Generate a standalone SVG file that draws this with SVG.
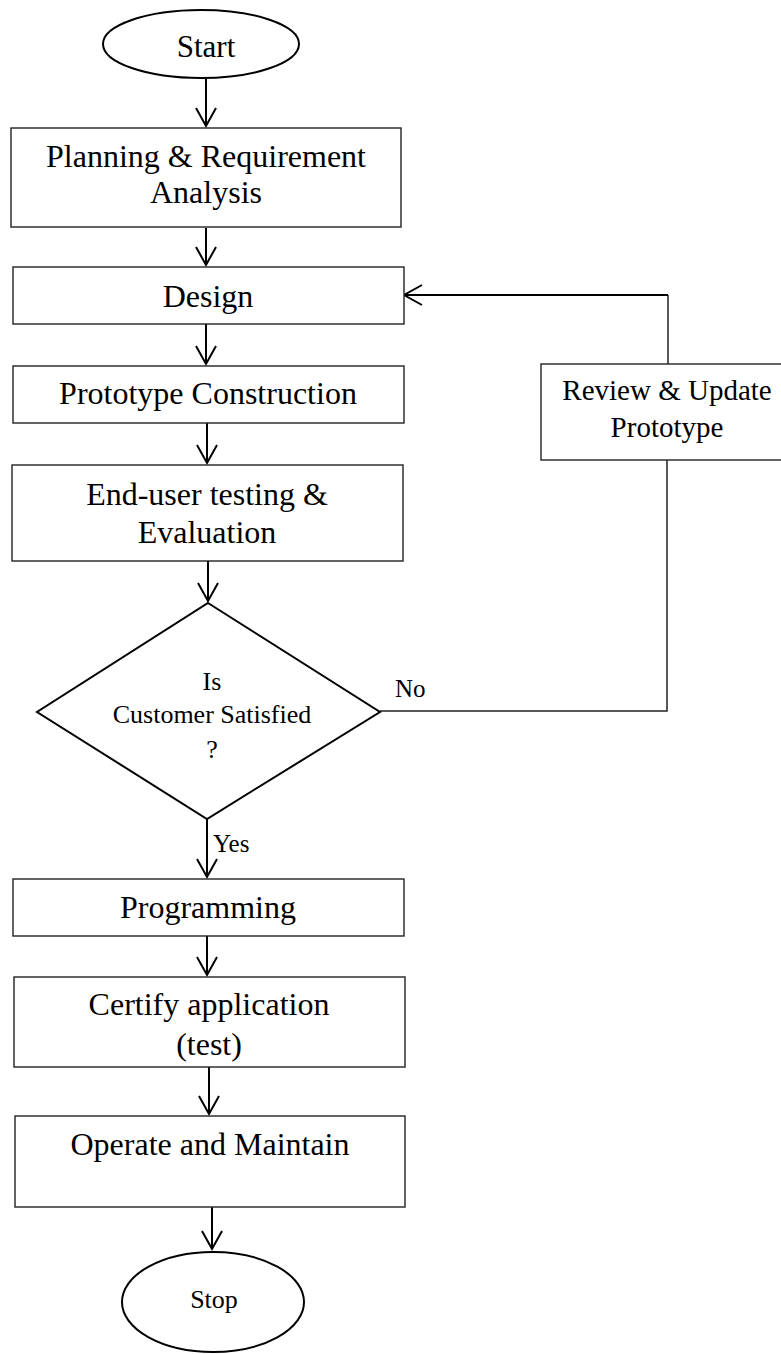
<svg xmlns="http://www.w3.org/2000/svg" width="781" height="1354" viewBox="0 0 781 1354">
  <defs>
    <style>
      .shape { fill: #ffffff; stroke: #222222; stroke-width: 1.4; }
      .term { fill: #ffffff; stroke: #000000; stroke-width: 2; }
      .lbl { font-family: "Liberation Serif", "Times New Roman", serif; font-size: 32px; fill: #000000; text-anchor: middle; }
      .sm { font-size: 26px; }
      .tag { font-family: "Liberation Serif", "Times New Roman", serif; font-size: 25px; fill: #000000; }
      .wire { fill: none; stroke: #000000; stroke-width: 2; }
      .wire-thin { fill: none; stroke: #222222; stroke-width: 1.5; }
    </style>
    <marker id="vhead" markerUnits="userSpaceOnUse" markerWidth="24" markerHeight="24" viewBox="-20 -12 24 24" refX="0" refY="0" orient="auto">
      <path d="M-18,-10 L0,0 L-18,10" fill="none" stroke="#000000" stroke-width="2"/>
    </marker>
  </defs>

  <rect width="781" height="1354" fill="#ffffff"/>

  <!-- connectors -->
  <g id="connectors">
    <line class="wire" x1="206" y1="79" x2="206" y2="126" marker-end="url(#vhead)"/>
    <line class="wire" x1="206" y1="228" x2="206" y2="265" marker-end="url(#vhead)"/>
    <line class="wire" x1="206" y1="324" x2="206" y2="364" marker-end="url(#vhead)"/>
    <line class="wire" x1="207" y1="423" x2="207" y2="463" marker-end="url(#vhead)"/>
    <line class="wire" x1="208" y1="561" x2="208" y2="601" marker-end="url(#vhead)"/>
    <line class="wire" x1="207" y1="819" x2="207" y2="877" marker-end="url(#vhead)"/>
    <line class="wire" x1="207" y1="936" x2="207" y2="975" marker-end="url(#vhead)"/>
    <line class="wire" x1="209" y1="1067" x2="209" y2="1114" marker-end="url(#vhead)"/>
    <line class="wire" x1="212" y1="1207" x2="212" y2="1249" marker-end="url(#vhead)"/>
    <!-- "No" branch back to Design -->
    <polyline class="wire-thin" points="380,711 667,711 667,460"/>
    <line class="wire-thin" x1="668" y1="364" x2="668" y2="295"/>
    <line class="wire" x1="668" y1="295" x2="404" y2="295" marker-end="url(#vhead)"/>
    <text class="tag" x="395" y="697">No</text>
    <text class="tag" x="213" y="852">Yes</text>
  </g>

  <g id="start">
    <ellipse class="term" cx="201" cy="44" rx="98" ry="34"/>
    <text class="lbl" x="206" y="57" style="font-size:31px">Start</text>
  </g>

  <g id="planning">
    <rect class="shape" x="11" y="128" width="390" height="99"/>
    <text class="lbl" x="206" y="167">Planning &amp; Requirement</text>
    <text class="lbl" x="206" y="203">Analysis</text>
  </g>

  <g id="design">
    <rect class="shape" x="13" y="267" width="391" height="57"/>
    <text class="lbl" x="208" y="307">Design</text>
  </g>

  <g id="prototype">
    <rect class="shape" x="13" y="366" width="391" height="57"/>
    <text class="lbl" x="208" y="404">Prototype Construction</text>
  </g>

  <g id="evaluation">
    <rect class="shape" x="12" y="465" width="391" height="96"/>
    <text class="lbl" x="207" y="505">End-user testing &amp;</text>
    <text class="lbl" x="207" y="543">Evaluation</text>
  </g>

  <g id="decision">
    <polygon class="term" points="208,603 380,712 207,819 37,712"/>
    <text class="lbl sm" x="212" y="690">Is</text>
    <text class="lbl sm" x="212" y="723">Customer Satisfied</text>
    <text class="lbl sm" x="212" y="758">?</text>
  </g>

  <g id="review">
    <rect class="shape" x="541" y="364" width="245" height="96"/>
    <text class="lbl" x="667" y="400" style="font-size:29px">Review &amp; Update</text>
    <text class="lbl" x="667" y="437" style="font-size:29px">Prototype</text>
  </g>

  <g id="programming">
    <rect class="shape" x="13" y="879" width="391" height="57"/>
    <text class="lbl" x="208" y="918">Programming</text>
  </g>

  <g id="certify">
    <rect class="shape" x="14" y="977" width="391" height="90"/>
    <text class="lbl" x="209" y="1015">Certify application</text>
    <text class="lbl" x="209" y="1055">(test)</text>
  </g>

  <g id="operate">
    <rect class="shape" x="15" y="1116" width="390" height="91"/>
    <text class="lbl" x="210" y="1155">Operate and Maintain</text>
  </g>

  <g id="stop">
    <ellipse class="term" cx="213" cy="1302" rx="91" ry="50"/>
    <text class="lbl" x="214" y="1308" style="font-size:26px">Stop</text>
  </g>
</svg>
